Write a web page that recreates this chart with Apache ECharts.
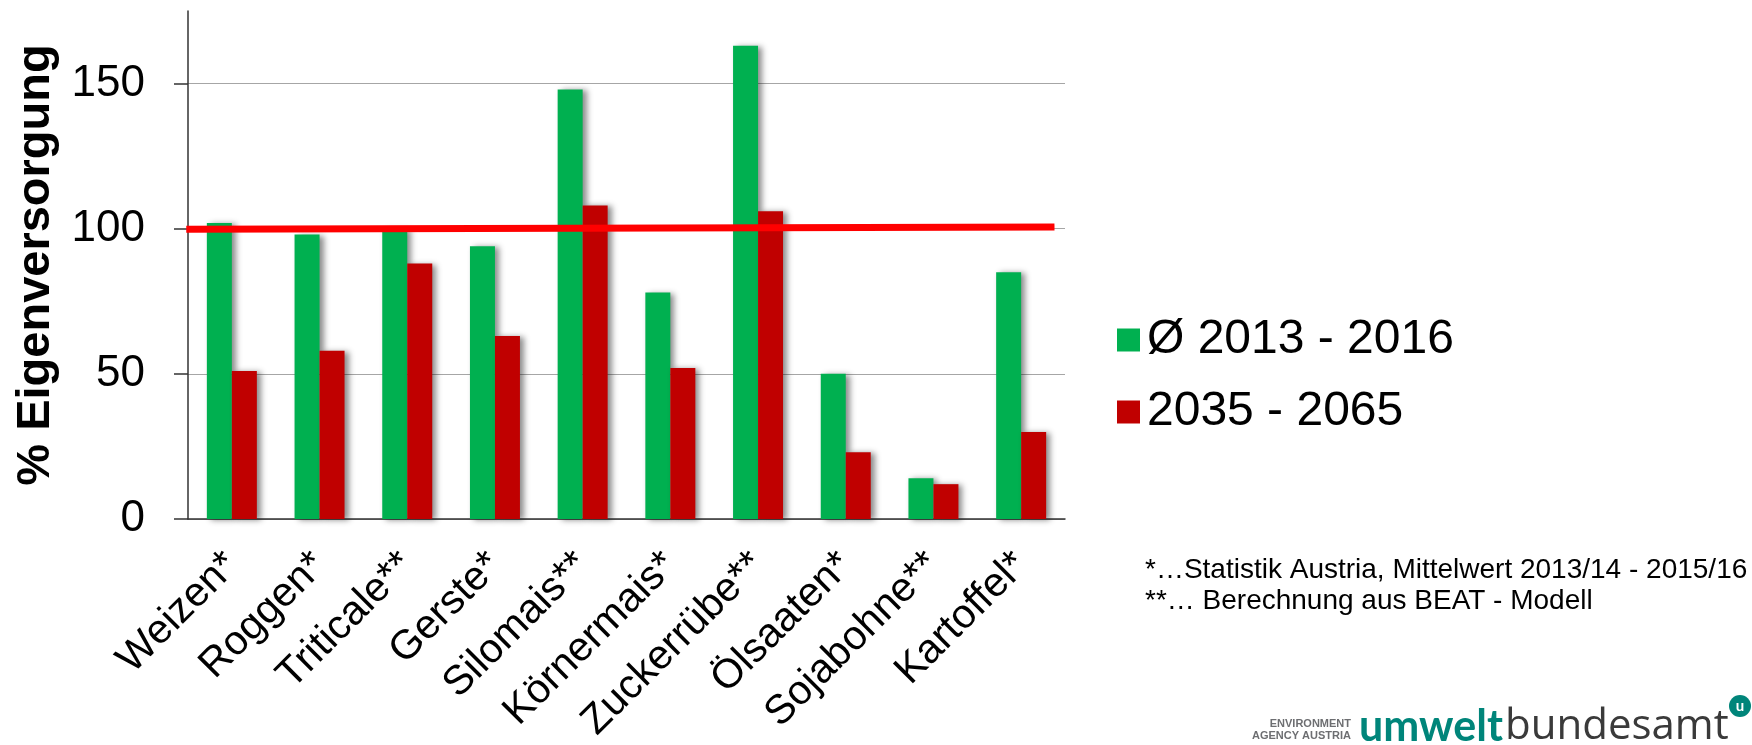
<!DOCTYPE html>
<html>
<head>
<meta charset="utf-8">
<script src="https://cdn.jsdelivr.net/npm/echarts@6/dist/echarts.min.js"></script>
<style>
  html, body { margin: 0; padding: 0; background: #fff; }
  #chart { width: 1752px; height: 745px; }
</style>
</head>
<body>
<div id="chart"></div>
<script>
// categories and values
const categories = ['Weizen*', 'Roggen*', 'Triticale**', 'Gerste*', 'Silomais**', 'Körnermais*', 'Zuckerrübe**', 'Ölsaaten*', 'Sojabohne**', 'Kartoffel*']
const avg20132016 = [102, 98, 100, 94, 148, 78, 163, 50, 14, 85]
const proj20352065 = [51, 58, 88, 63, 108, 52, 106, 23, 12, 30]
const yTicks = [0, 50, 100, 150]
// the hand drawn 100% line (x in category units, slightly tilted)
const refLineX = [-0.02, 9.88]
const refLineY = [99.8, 100.6]

const font = "'Liberation Sans', Arial, sans-serif"
const barShadow = {
  shadowColor: 'rgba(0,0,0,0.45)',
  shadowBlur: 6,
  shadowOffsetX: 4,
  shadowOffsetY: 1
}

const chart = echarts.init(document.getElementById('chart'))

chart.setOption({
  animation: false,
  textStyle: {fontFamily: font},
  grid: {left: 188, top: 11, right: 687, bottom: 226, containLabel: false},
  legend: {
    orient: 'vertical',
    left: 1112,
    top: 311,
    itemWidth: 23,
    itemHeight: 23,
    itemGap: 24,
    icon: 'rect',
    data: ['Ø 2013 - 2016', '2035 - 2065'],
    textStyle: {fontSize: 48, lineHeight: 46, color: '#000', fontFamily: font, padding: [0, 0, 0, 2]}
  },
  xAxis: [
    {
      type: 'category',
      data: categories,
      axisLine: {lineStyle: {color: '#333', width: 1.5}},
      axisTick: {length: 13, lineStyle: {color: '#333', width: 1.5}},
      axisLabel: {
        rotate: 45,
        margin: 40,
        fontSize: 41,
        color: '#000',
        fontFamily: font,
        interval: 0
      },
      splitLine: {show: false}
    },
    {
      type: 'value',
      min: 0,
      max: 10,
      show: false
    }
  ],
  yAxis: {
    type: 'value',
    min: 0,
    max: 175,
    name: '% Eigenversorgung',
    nameLocation: 'middle',
    nameGap: 128,
    nameTextStyle: {fontSize: 47, fontWeight: 'bold', color: '#000', fontFamily: font},
    axisLine: {show: true, lineStyle: {color: '#333', width: 1.5}},
    axisTick: {show: true, length: 14, customValues: yTicks, lineStyle: {color: '#333', width: 1.5}},
    axisLabel: {customValues: yTicks, fontSize: 44, color: '#000', margin: 43, fontFamily: font},
    splitLine: {show: true, lineStyle: {color: '#a6a6a6', width: 1.2}}
  },
  series: [
    {
      name: 'Ø 2013 - 2016',
      type: 'bar',
      barWidth: 25,
      barGap: '0%',
      itemStyle: Object.assign({color: '#00b050'}, barShadow),
      data: avg20132016
    },
    {
      name: '2035 - 2065',
      type: 'bar',
      barWidth: 25,
      barGap: '0%',
      itemStyle: Object.assign({color: '#c00000'}, barShadow),
      data: proj20352065
    },
    {
      type: 'line',
      xAxisIndex: 1,
      symbol: 'none',
      clip: false,
      silent: true,
      z: 10,
      lineStyle: {color: '#ff0000', width: 7},
      data: refLineX.map((x, i) => [x, refLineY[i]])
    }
  ],
  graphic: [
    {
      type: 'text',
      left: 1145,
      top: 555,
      style: {
        text: '*…Statistik Austria, Mittelwert 2013/14 - 2015/16\n**… Berechnung aus BEAT - Modell',
        font: '28px ' + font,
        lineHeight: 31,
        fill: '#000'
      }
    },
    // logo
    {
      type: 'text',
      x: 1351,
      y: 718,
      style: {text: 'ENVIRONMENT', font: 'bold 11px ' + font, fill: '#6d6e71', align: 'right'}
    },
    {
      type: 'text',
      x: 1351,
      y: 730,
      style: {text: 'AGENCY AUSTRIA', font: 'bold 11px ' + font, fill: '#6d6e71', align: 'right'}
    },
    {
      type: 'text',
      x: 1359,
      y: 727,
      style: {text: 'umwelt', font: 'bold 43px Lato, sans-serif', fill: '#00857a', verticalAlign: 'middle'}
    },
    {
      type: 'text',
      x: 1505,
      y: 727,
      style: {text: 'bundesamt', font: '42px "Open Sans", sans-serif', fill: '#3a3a3a', verticalAlign: 'middle'}
    },
    {
      type: 'circle',
      shape: {cx: 1740, cy: 706, r: 11},
      style: {fill: '#00857a'}
    },
    {
      type: 'text',
      x: 1740,
      y: 706,
      style: {text: 'u', font: 'bold 15px Lato, sans-serif', fill: '#fff', align: 'center', verticalAlign: 'middle'}
    }
  ]
})
</script>
</body>
</html>
